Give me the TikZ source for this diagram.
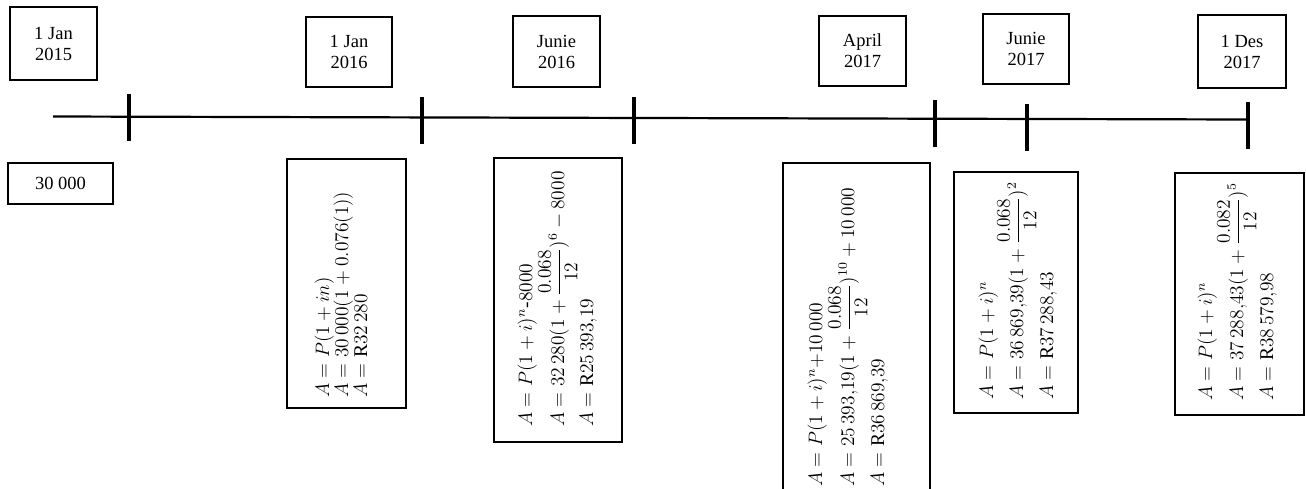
\documentclass[tikz,border=0pt]{standalone}
\usepackage{amsmath}
\usepackage{fontspec}
\setmainfont{Liberation Serif}
\begin{document}
\begin{tikzpicture}[x=1pt,y=-1pt,
  datebox/.style={draw, line width=1.3pt, inner sep=0pt, align=center,
    font=\fontsize{18.5}{21}\selectfont},
  fbox/.style={draw, line width=1.3pt, inner sep=0pt},
  fl/.style={rotate=90, scale=1.62, inner sep=0pt, anchor=base west,
    font=\fontsize{12}{14}\selectfont},
  axisline/.style={line width=2.2pt},
  tickline/.style={line width=3.6pt}]
\useasboundingbox (0,0) rectangle (1306,488);
\clip (0,0) rectangle (1306,488);

% date boxes
\node[datebox, minimum width=87pt, minimum height=73pt] (d1) at (53.5,43.5) {1 Jan\\2015};
\node[datebox, minimum width=86pt, minimum height=70pt] (d2) at (349,52) {1 Jan\\2016};
\node[datebox, minimum width=87pt, minimum height=71pt] (d3) at (556.5,51.5) {Junie\\2016};
\node[datebox, minimum width=87pt, minimum height=70pt] (d4) at (862.5,51) {April\\2017};
\node[datebox, minimum width=86pt, minimum height=70pt] (d5) at (1026,49) {Junie\\2017};
\node[datebox, minimum width=88pt, minimum height=73pt] (d6) at (1242,51.5) {1 Des\\2017};

% principal box
\node[datebox, minimum width=105pt, minimum height=41pt] (p0) at (60.5,183.5) {30 000};

% time line
\coordinate (L0) at (53,116.5);
\coordinate (L1) at (1248,119.5);
\draw[axisline] (L0) -- (L1);
\foreach \n/\x/\a/\b in {1/129/94/141, 2/422/97/144, 3/634/97/144, 4/935/100/147, 5/1027/104/151, 6/1248/102/149}{
  \coordinate (t\n a) at (\x,\a);
  \coordinate (t\n b) at (\x,\b);
  \draw[tickline] (t\n a) -- (t\n b);
}

% formula boxes
\node[fbox, minimum width=119pt, minimum height=249pt] (f1) at (346.5,283.5) {};
\node[fbox, minimum width=128pt, minimum height=284pt] (f2) at (558,300) {};
\node[fbox, minimum width=147pt, minimum height=347pt] (f3) at (856.5,336.5) {};
\node[fbox, minimum width=124pt, minimum height=241pt] (f4) at (1016,292.5) {};
\node[fbox, minimum width=129pt, minimum height=242pt] (f5) at (1239.5,294) {};

% formulas
\node[fl] (f1a) at (329,398) {$A = P(1+in)$};
\node[fl] (f1b) at (348,398) {$A = 30\,000(1+0.076(1))$};
\node[fl] (f1c) at (367,398) {$A = \mathrm{R}32\,280$};

\node[fl] (f2a) at (532,427) {$A = P(1+i)^n\mbox{-}8000$};
\node[fl] (f2b) at (564,427) {$A = 32\,280(1+\dfrac{0.068}{12})^6 - 8000$};
\node[fl] (f2c) at (593,427) {$A = \mathrm{R}25\,393{,}19$};

\node[fl] (f3a) at (822,487) {$A = P(1+i)^n{+}10\,000$};
\node[fl] (f3b) at (854,487) {$A = 25\,393{,}19(1+\dfrac{0.068}{12})^{10} + 10\,000$};
\node[fl] (f3c) at (884,487) {$A = \mathrm{R}36\,869{,}39$};

\node[fl] (f4a) at (993,400) {$A = P(1+i)^n$};
\node[fl] (f4b) at (1023,400) {$A = 36\,869{,}39(1+\dfrac{0.068}{12})^2$};
\node[fl] (f4c) at (1053,400) {$A = \mathrm{R}37\,288{,}43$};

\node[fl] (f5a) at (1212,401) {$A = P(1+i)^n$};
\node[fl] (f5b) at (1243,401) {$A = 37\,288{,}43(1+\dfrac{0.082}{12})^5$};
\node[fl] (f5c) at (1273,401) {$A = \mathrm{R}38\,579{,}98$};
\end{tikzpicture}
\end{document}
